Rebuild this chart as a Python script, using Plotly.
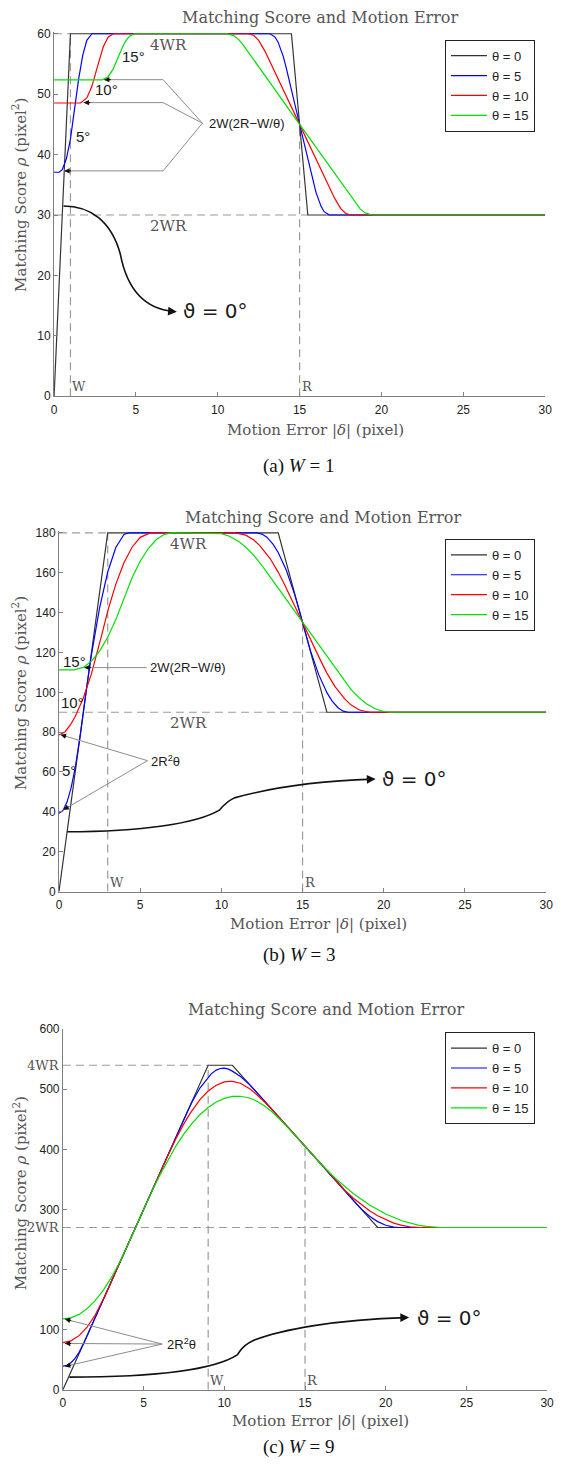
import plotly.graph_objects as go

# ---------------- data ----------------
R = 15
W_VALUES = [1, 3, 9]
THETA_DEG = [0, 5, 10, 15]
LEGEND_LABELS = ["θ = 0", "θ = 5", "θ = 10", "θ = 15"]
X_TICKS = [0, 5, 10, 15, 20, 25, 30]
Y_TICKS_A = [0, 10, 20, 30, 40, 50, 60]
Y_TICKS_B = [0, 20, 40, 60, 80, 100, 120, 140, 160, 180]
Y_TICKS_C = [0, 100, 200, 300, 400, 500, 600]

# panel (a) W = 1
a_d0 = [0, 1, 14.5, 15.5, 30]
a_r0 = [0, 60, 60, 30, 30]
a_d5 = [0, 0.31, 0.5, 0.75, 1.0, 1.31, 1.5, 1.75, 2.0, 2.31, 13.19, 13.5, 13.69, 14.0,
        14.19, 15.0, 15.81, 16.0, 16.31, 16.5, 16.81, 30]
a_r5 = [37.08, 37.08, 37.5, 39.31, 42.56, 48.54, 52.5, 56.42, 58.9, 60, 60, 59.45, 58.57, 56.25,
        54.27, 45.0, 35.73, 33.75, 31.43, 30.55, 30, 30]
a_d10 = [0, 1.62, 2.0, 2.3, 2.62, 3.0, 3.3, 3.62, 11.88, 12.2, 12.5, 12.88, 15.0, 17.12,
         17.5, 17.8, 18.12, 30]
a_r10 = [48.54, 48.54, 49.38, 51.21, 54.27, 57.81, 59.42, 60, 60, 59.71, 58.91, 57.13, 45, 32.87,
         31.09, 30.29, 30, 30]
a_d15 = [0, 2.93, 3.3, 3.6, 3.93, 4.3, 4.6, 4.93, 10.57, 11.0, 11.3, 11.57, 15.0, 18.43,
         18.7, 19.0, 19.43, 30]
a_r15 = [52.36, 52.36, 52.89, 54.09, 56.18, 58.5, 59.59, 60, 60, 59.65, 58.99, 58.09, 45, 31.91,
         31.01, 30.35, 30, 30]

# panel (b) W = 3
b_d0 = [0, 3, 13.5, 16.5, 30]
b_r0 = [0, 180, 180, 90, 90]
b_d5 = [0, 0.25, 0.5, 0.75, 1.0, 1.31, 1.69, 2.0, 2.5, 3.0, 3.5, 4.0, 4.31, 12.19, 12.5,
        12.8, 13.19, 13.5, 14.0, 14.5, 14.81, 15.19, 15.5, 16.0, 16.5, 16.81, 17.2, 17.5, 17.81, 30]
b_r5 = [39.27, 40.7, 45.0, 52.16, 62.19, 78.54, 101.46, 118.9, 142.36, 160.4, 172.7, 179.28, 180, 180, 179.45,
        177.87, 174.27, 170.18, 161.25, 149.45, 140.73, 129.27, 120.55, 108.75, 99.82, 95.73, 92.13, 90.55, 90, 90]
b_d10 = [0, 0.38, 0.7, 1.0, 1.5, 2.0, 2.62, 3.0, 3.5, 4.0, 4.5, 5.0, 5.62, 10.88, 11.5,
         12.0, 12.38, 13.0, 13.5, 13.88, 16.12, 16.5, 17.0, 17.62, 18.0, 18.5, 19.12, 30]
b_r10 = [78.54, 80.21, 83.6, 87.81, 97.16, 109.38, 128.43, 140.73, 154.3, 165.0, 172.84, 177.8, 180, 180, 178.9,
         176.42, 173.55, 167.15, 160.36, 154.22, 115.78, 109.64, 102.85, 96.45, 93.58, 91.1, 90, 90]
b_d15 = [0, 0.93, 1.5, 2.0, 2.5, 3.0, 3.5, 3.93, 4.5, 5.0, 5.5, 6.0, 6.5, 6.93, 9.57, 10.0,
         10.5, 11.07, 11.5, 12.0, 12.57, 17.43, 18.0, 18.5, 18.93, 19.5, 20.0, 20.43, 30]
b_r15 = [111.25, 111.25, 112.5, 115.64, 120.7, 127.66, 136.5, 145.62, 157.5, 165.8, 172.2, 176.7, 179.3, 180, 180, 179.65,
         178.36, 175.7, 172.91, 168.75, 162.81, 107.19, 101.25, 97.09, 94.3, 91.64, 90.35, 90, 90]

# panel (c) W = 9
c_d0 = [0, 9, 10.5, 19.5, 30]
c_r0 = [0, 540, 540, 270, 270]
c_d5 = [0, 0.25, 0.5, 0.75, 1.0, 1.31, 7.69, 8.0, 8.5, 9.0, 9.19, 9.5, 9.75, 10.0, 10.25, 10.5,
        11.0, 11.5, 11.81, 18.19, 18.5, 19.0, 19.5, 20.0, 20.5, 20.81, 30]
c_r5 = [39.27, 40.7, 45.0, 52.16, 62.19, 78.54, 461.46, 478.9, 502.5, 520.4, 525.7, 531.9, 534.6, 535.2, 533.5, 530.2,
        521.25, 509.45, 500.7, 309.3, 300.55, 288.75, 279.8, 273.7, 270.5, 270, 270]
c_d10 = [0, 0.5, 1.0, 1.5, 2.0, 2.62, 6.38, 7.0, 7.5, 7.88, 8.5, 9.0, 9.5, 10.0, 10.3, 10.5,
         11.0, 11.62, 12.0, 12.5, 13.12, 16.88, 17.5, 18.0, 18.5, 19.0, 19.5, 20.0, 20.5, 21.0, 21.5, 22.12, 30]
c_r10 = [78.54, 81.4, 90.0, 104.3, 124.4, 157.08, 382.9, 417.8, 442.8, 460.0, 483.2, 497.1, 506.8, 512.2, 513.3, 513.2,
         510.0, 500.0, 491.4, 478.9, 461.5, 348.5, 331.1, 318.6, 307.5, 297.9, 289.6, 282.8, 277.3, 273.6, 271.1, 270, 270]
c_d15 = [0, 0.5, 1.0, 1.5, 2.0, 2.5, 3.0, 3.5, 3.93, 5.07, 5.5, 6.0, 6.57, 7.0, 7.5, 8.0, 8.5, 9.0,
         9.5, 10.0, 10.5, 11.0, 11.5, 12.0, 12.5, 12.93, 13.5, 14.0, 14.43, 15.57, 16.0, 17.0, 18.0,
         19.0, 20.0, 21.0, 22.0, 22.5, 23.0, 23.43, 30]
c_r15 = [117.8, 119.7, 125.4, 135.0, 148.3, 165.5, 186.5, 211.4, 235.6, 304.4, 329.3, 356.7, 385.8, 405.5, 425.9, 443.4, 458.0, 469.8,
         478.8, 484.8, 488.1, 488.4, 485.9, 480.6, 472.3, 462.9, 448.4, 434.7, 422.0, 387.8, 375.3, 348.9, 326.2,
         307.4, 292.4, 281.2, 273.8, 271.9, 270.6, 270, 270]

CURVES = [
    [(a_d0, a_r0), (a_d5, a_r5), (a_d10, a_r10), (a_d15, a_r15)],
    [(b_d0, b_r0), (b_d5, b_r5), (b_d10, b_r10), (b_d15, b_r15)],
    [(c_d0, c_r0), (c_d5, c_r5), (c_d10, c_r10), (c_d15, c_r15)],
]
Y_TICKS = [Y_TICKS_A, Y_TICKS_B, Y_TICKS_C]

# ---------------- styling / layout ----------------
W_PX, H_PX = 561, 1473
SERIF = "DejaVu Serif"
SANS = "Liberation Sans, Arial, DejaVu Sans"
COLORS = ["#333333", "#0000ff", "#ff0000", "#00e000"]
AXC = "#808080"
TXT = "#555555"


def fx(p):
    return p / W_PX


def fy(p):
    return 1 - p / H_PX


PX = [
    dict(xl=52, xr=552, y0=393, ppu=366 / 60, ymax=60.3, title_y=11, xt_y=427, yt_y=190, cap_y=463, leg_y=33),
    dict(xl=57, xr=553, y0=893, ppu=362 / 180, ymax=181, title_y=515, xt_y=926, yt_y=693, cap_y=957, leg_y=537),
    dict(xl=61, xr=554, y0=1396, ppu=364 / 600, ymax=600, title_y=1012, xt_y=1428, yt_y=1198, cap_y=1454, leg_y=1035),
]

fig = go.Figure()
layout = dict(width=W_PX, height=H_PX, margin=dict(l=0, r=0, t=0, b=0),
              paper_bgcolor="white", plot_bgcolor="white", showlegend=True)
annotations = []
shapes = []

for i in range(3):
    sfx = "" if i == 0 else str(i + 1)
    xr, yr = "x" + sfx, "y" + sfx
    p = PX[i]
    W = W_VALUES[i]
    leg = "legend" + sfx
    for k in range(4):
        d, r = CURVES[i][k]
        fig.add_trace(go.Scatter(x=d, y=r, mode="lines", name=LEGEND_LABELS[k],
                                 line=dict(color=COLORS[k], width=1.2),
                                 xaxis=xr, yaxis=yr, legend=leg))
    layout["xaxis" + sfx] = dict(domain=[fx(p["xl"]), fx(p["xr"])], anchor=yr, range=[0, 30],
                                 tickvals=X_TICKS, ticks="inside", ticklen=4, tickcolor=AXC,
                                 showline=True, linecolor=AXC, linewidth=1, showgrid=False,
                                 zeroline=False, tickfont=dict(family=SANS, size=12, color="#222"),
                                 ticklabelstandoff=2)
    layout["yaxis" + sfx] = dict(domain=[fy(p["y0"]), fy(p["y0"] - p["ppu"] * p["ymax"])], anchor=xr,
                                 range=[0, p["ymax"]], tickvals=Y_TICKS[i], ticks="inside", ticklen=4,
                                 tickcolor=AXC, showline=True, linecolor=AXC, linewidth=1,
                                 showgrid=False, zeroline=False,
                                 tickfont=dict(family=SANS, size=12, color="#222"))
    layout[leg] = dict(x=fx(450), y=fy(p["leg_y"]), xanchor="left", yanchor="top",
                       bgcolor="white", bordercolor="#222", borderwidth=1,
                       font=dict(family=SANS, size=13, color="#222"),
                       itemwidth=36, tracegroupgap=0, traceorder="normal")

    # title, axis titles, caption
    cx = (p["xl"] + p["xr"]) / 2 + 21
    annotations.append(dict(text="Matching Score and Motion Error", x=fx(cx), y=fy(p["title_y"]),
                            xref="paper", yref="paper", showarrow=False, xanchor="center", yanchor="middle",
                            font=dict(family=SERIF, size=16, color=TXT)))
    annotations.append(dict(text="Motion Error |<i>δ</i>| (pixel)", x=fx(cx - 5), y=fy(p["xt_y"]),
                            xref="paper", yref="paper", showarrow=False, xanchor="center", yanchor="middle",
                            font=dict(family=SERIF, size=15, color=TXT)))
    annotations.append(dict(text="Matching Score <i>ρ</i> (pixel<sup>2</sup>)", x=fx(17), y=fy(p["yt_y"]),
                            xref="paper", yref="paper", showarrow=False, xanchor="center", yanchor="middle",
                            textangle=-90, font=dict(family=SERIF, size=15, color=TXT)))
    annotations.append(dict(text="(%s) <i>W</i> = %d" % ("abc"[i], W), x=fx(301), y=fy(p["cap_y"]),
                            xref="paper", yref="paper", showarrow=False, xanchor="center", yanchor="middle",
                            font=dict(family="Liberation Serif, Times New Roman, serif", size=19, color="#111")))

    # dashed reference lines
    dash = dict(color="#9a9a9a", width=1.2, dash="8px,5px")
    top, mid = 4 * W * R, 2 * W * R
    for (x0, y0, x1, y1) in [(0, top, W, top), (0, mid, R + W / 2, mid), (W, 0, W, top), (R, 0, R, 3 * W * R)]:
        shapes.append(dict(type="line", xref=xr, yref=yr, x0=x0, y0=y0, x1=x1, y1=y1, line=dash, layer="below"))

    # W / R labels at the bottom
    for lab, xv in (("W", W), ("R", R)):
        annotations.append(dict(text=lab, x=xv, y=0, xref=xr, yref=yr, showarrow=False, xanchor="left",
                                yanchor="bottom", xshift=0, yshift=0,
                                font=dict(family=SERIF, size=13, color=TXT)))


def text(t, x, y, i, size=13, xa="left", ya="middle", fam=SANS, color="#1a1a1a"):
    sfx = "" if i == 0 else str(i + 1)
    annotations.append(dict(text=t, x=x, y=y, xref="x" + sfx, yref="y" + sfx, showarrow=False,
                            xanchor=xa, yanchor=ya, font=dict(family=fam, size=size, color=color)))


def poly(pts, i, color="#8c8c8c", width=1):
    sfx = "" if i == 0 else str(i + 1)
    path = "M " + " L ".join("%g,%g" % q for q in pts)
    shapes.append(dict(type="path", xref="x" + sfx, yref="y" + sfx, path=path,
                       line=dict(color=color, width=width)))


def head(tip, frm, i, size=0.9, width=1.2):
    sfx = "" if i == 0 else str(i + 1)
    tx, ty = tip
    fx_, fy_ = frm
    annotations.append(dict(text="", x=tx, y=ty, ax=fx_, ay=fy_, xref="x" + sfx, yref="y" + sfx,
                            axref="x" + sfx, ayref="y" + sfx, showarrow=True, arrowhead=2,
                            arrowsize=size, arrowwidth=width, arrowcolor="#111", standoff=0))


def curve(path, i, tip, tail):
    sfx = "" if i == 0 else str(i + 1)
    shapes.append(dict(type="path", xref="x" + sfx, yref="y" + sfx, path=path,
                       line=dict(color="#111", width=1.6)))
    head(tip, tail, i, size=1.1, width=1.6)


# ---- panel (a) annotations
text("4WR", 5.76, 60, 0, size=15, ya="top", fam=SERIF, color=TXT)
text("2WR", 5.76, 30, 0, size=15, ya="top", fam=SERIF, color=TXT)
text("15°", 4.05, 56.2, 0, size=15)
text("10°", 2.4, 50.7, 0, size=15)
text("5°", 1.2, 43.0, 0, size=15)
text("2W(2R−W/θ)", 9.36, 45.2, 0, size=13)
for (bv, tx) in ((52.4, 3.05), (48.6, 1.8), (37.3, 0.62)):
    poly([(9.06, 45.2), (6.66, bv), (tx, bv)], 0)
    head((tx, bv), (tx + 0.5, bv), 0)
curve("M 0.58,31.5 C 2.2,31.5 3.5,29 4.05,23.5 C 4.3,20 5,14.6 7.3,14.05", 0, (7.5, 14.0), (7.0, 14.1))
text("ϑ = 0°", 7.75, 14.1, 0, size=20, fam="DejaVu Sans")

# ---- panel (b) annotations
text("4WR", 6.7, 180, 1, size=15, ya="top", fam=SERIF, color=TXT)
text("2WR", 6.7, 90, 1, size=15, ya="top", fam=SERIF, color=TXT)
text("15°", 0.1, 115.5, 1, size=15)
text("10°", 0.0, 95, 1, size=15)
text("5°", 0.05, 61, 1, size=15)
text("2W(2R−W/θ)", 5.5, 112.4, 1, size=13)
poly([(5.4, 112.4), (1.55, 112.4)], 1)
head((1.55, 112.4), (2.05, 112.4), 1)
text("2R<sup>2</sup>θ", 5.55, 65.7, 1, size=13)
for tip in ((0.1, 78.7), (0.27, 41.0)):
    poly([(5.45, 65.7), tip], 1)
    head(tip, (tip[0] + 0.08 * (5.45 - tip[0]), tip[1] + 0.08 * (65.7 - tip[1])), 1)
curve("M 0.5,30 C 5,30 8.5,34 9.9,41 C 10.1,43 10.3,45 10.8,47 C 13,52 16,55.5 19.3,56.4", 1,
      (19.5, 56.45), (19.0, 56.35))
text("ϑ = 0°", 19.75, 56.4, 1, size=20, fam="DejaVu Sans")

# ---- panel (c) annotations
for lab, yv in (("4WR", 540), ("2WR", 270)):
    annotations.append(dict(text=lab, x=0, y=yv, xref="x3 domain", yref="y3", showarrow=False,
                            xanchor="right", yanchor="middle", xshift=-1,
                            font=dict(family=SERIF, size=13, color=TXT)))
text("2R<sup>2</sup>θ", 6.3, 76.5, 2, size=13)
for tip in ((0.12, 117.5), (0.12, 77.0), (0.12, 38.8)):
    poly([(6.15, 76.0), tip], 2)
    head(tip, (tip[0] + 0.08 * (6.15 - tip[0]), tip[1] + 0.08 * (76.0 - tip[1])), 2)
curve("M 0.4,21 C 6,21 9.5,35 10.8,58 C 11.0,64 11.0,72 11.8,82 C 13.5,100 17,117 21.2,120", 2,
      (21.45, 120.2), (20.95, 120.0))
text("ϑ = 0°", 21.8, 120, 2, size=20, fam="DejaVu Sans")

layout["annotations"] = annotations
layout["shapes"] = shapes
fig.update_layout(**layout)
fig.write_html("out.html")
